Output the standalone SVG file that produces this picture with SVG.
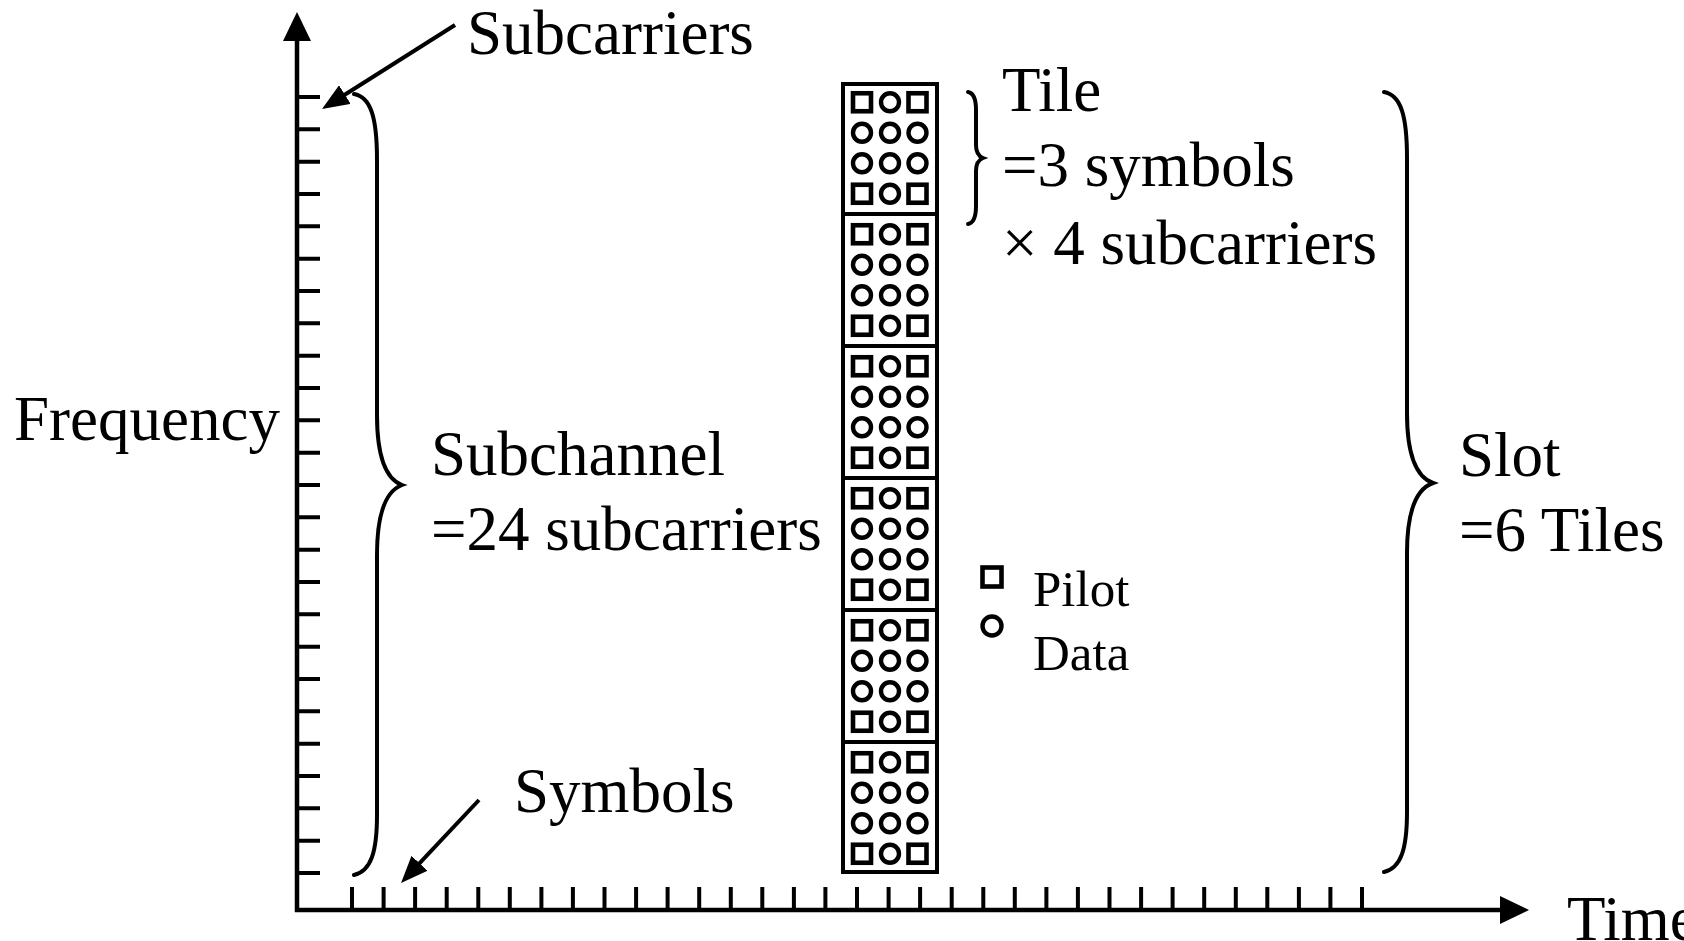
<svg xmlns="http://www.w3.org/2000/svg" width="1684" height="941" viewBox="0 0 1684 941">
  <style>
    .lbl { font-family: "Liberation Serif", "Times New Roman", serif; font-size: 63px; fill: #000; }
    .leg { font-family: "Liberation Serif", "Times New Roman", serif; font-size: 51px; fill: #000; }
    .axis { stroke: #000; stroke-width: 4.5; fill: none; }
    .tick { stroke: #000; stroke-width: 4; fill: none; }
    .brace { stroke: #000; stroke-width: 4; fill: none; stroke-linecap: round; }
    .ptr { stroke: #000; stroke-width: 4; fill: none; }
    .pilot { fill: #fff; stroke: #000; stroke-width: 4.6; }
    .data { fill: #fff; stroke: #000; stroke-width: 4.4; }
    .frame { fill: #fff; stroke: #000; stroke-width: 4; }
  </style>
  <defs>
    <marker id="axis-head" markerUnits="userSpaceOnUse" markerWidth="29" markerHeight="28" viewBox="0 0 29 28" refX="19" refY="14" orient="auto">
      <path d="M0,0 L29,14 L0,28 Z" fill="#000"/>
    </marker>
    <marker id="ptr-head" markerUnits="userSpaceOnUse" markerWidth="27" markerHeight="22" viewBox="0 0 27 22" refX="17" refY="11" orient="auto">
      <path d="M0,0 L27,11 L0,22 Z" fill="#000"/>
    </marker>
    <!-- one tile: 3 symbols x 4 subcarriers, pilots in the corners -->
    <g id="tile-cells">
      <rect class="pilot" x="853" y="11.25" width="18" height="18"/>
      <circle class="data" cx="890" cy="20.25" r="9"/>
      <rect class="pilot" x="908.5" y="11.25" width="18" height="18"/>
      <circle class="data" cx="862" cy="50.75" r="9"/>
      <circle class="data" cx="890" cy="50.75" r="9"/>
      <circle class="data" cx="917.5" cy="50.75" r="9"/>
      <circle class="data" cx="862" cy="81.25" r="9"/>
      <circle class="data" cx="890" cy="81.25" r="9"/>
      <circle class="data" cx="917.5" cy="81.25" r="9"/>
      <rect class="pilot" x="853" y="102.75" width="18" height="18"/>
      <circle class="data" cx="890" cy="111.75" r="9"/>
      <rect class="pilot" x="908.5" y="102.75" width="18" height="18"/>
    </g>
  </defs>

  <rect width="1684" height="941" fill="#fff"/>

  <!-- axes with tick marks -->
  <g id="axes">
    <line class="axis" x1="297" y1="912" x2="297" y2="22" marker-end="url(#axis-head)"/>
    <line class="axis" x1="295" y1="910" x2="1519" y2="910" marker-end="url(#axis-head)"/>
    <path class="tick" d="M297,97h23M297,129.3h23M297,161.7h23M297,194h23M297,226.3h23M297,258.7h23M297,291h23M297,323.3h23M297,355.7h23M297,388h23M297,420.3h23M297,452.7h23M297,485h23M297,517.3h23M297,549.7h23M297,582h23M297,614.3h23M297,646.7h23M297,679h23M297,711.3h23M297,743.7h23M297,776h23M297,808.3h23M297,840.7h23M297,873h23"/>
    <path class="tick" d="M352,887v23M383.6,887v23M415.1,887v23M446.7,887v23M478.3,887v23M509.8,887v23M541.4,887v23M572.9,887v23M604.5,887v23M636.1,887v23M667.6,887v23M699.2,887v23M730.8,887v23M762.3,887v23M793.9,887v23M825.4,887v23M857,887v23M888.6,887v23M920.1,887v23M951.7,887v23M983.3,887v23M1014.8,887v23M1046.4,887v23M1077.9,887v23M1109.5,887v23M1141.1,887v23M1172.6,887v23M1204.2,887v23M1235.8,887v23M1267.3,887v23M1298.9,887v23M1330.4,887v23M1362,887v23"/>
  </g>

  <!-- pointer arrows and braces -->
  <g id="connectors">
    <line class="ptr" x1="455" y1="25" x2="330.5" y2="103.7" marker-end="url(#ptr-head)"/>
    <line class="ptr" x1="479" y1="800" x2="407.9" y2="875.7" marker-end="url(#ptr-head)"/>
    <path class="brace" d="M354,94 C371,97 377,118 377,160 L377,415 C377,457 386,479 402,485 C386,491 377,513 377,555 L377,815 C377,852 371,871 354,875"/>
    <path class="brace" d="M1384,92 C1401,95 1407,116 1407,158 L1407,413 C1407,455 1416,477 1433,483 C1416,489 1407,511 1407,553 L1407,812 C1407,849 1401,868 1384,872"/>
    <path class="brace" stroke-width="3.5" d="M968,92 C974,93 976,100 976,110 L976,145 C976,152 978,156 983,158 C978,160 976,164 976,171 L976,206 C976,216 974,223 968,224"/>
  </g>

  <!-- subchannel column of six tiles -->
  <g id="subchannel">
    <rect class="frame" x="843" y="84" width="94" height="788"/>
    <g id="tile-1"><use href="#tile-cells" transform="translate(0,82)"/></g>
    <g id="tile-2"><use href="#tile-cells" transform="translate(0,214)"/></g>
    <g id="tile-3"><use href="#tile-cells" transform="translate(0,346)"/></g>
    <g id="tile-4"><use href="#tile-cells" transform="translate(0,478)"/></g>
    <g id="tile-5"><use href="#tile-cells" transform="translate(0,610)"/></g>
    <g id="tile-6"><use href="#tile-cells" transform="translate(0,742)"/></g>
    <path class="tick" d="M843,214H937M843,346H937M843,478H937M843,610H937M843,742H937"/>
  </g>

  <!-- legend -->
  <g id="legend">
    <rect class="pilot" x="982.5" y="567.5" width="19" height="19"/>
    <circle class="data" cx="992" cy="626" r="9.5"/>
    <text class="leg" x="1033" y="606">Pilot</text>
    <text class="leg" x="1033" y="670">Data</text>
  </g>

  <!-- labels -->
  <g id="labels">
    <text class="lbl" x="467" y="54">Subcarriers</text>
    <text class="lbl" x="14" y="440">Frequency</text>
    <text class="lbl" x="431" y="475">Subchannel</text>
    <text class="lbl" x="431" y="550">=24 subcarriers</text>
    <text class="lbl" x="1002" y="111">Tile</text>
    <text class="lbl" x="1002" y="186">=3 symbols</text>
    <text class="lbl" x="1002" y="264">× 4 subcarriers</text>
    <text class="lbl" x="1459" y="476">Slot</text>
    <text class="lbl" x="1459" y="551">=6 Tiles</text>
    <text class="lbl" x="514" y="812">Symbols</text>
    <text class="lbl" x="1567" y="940">Time</text>
  </g>
</svg>
